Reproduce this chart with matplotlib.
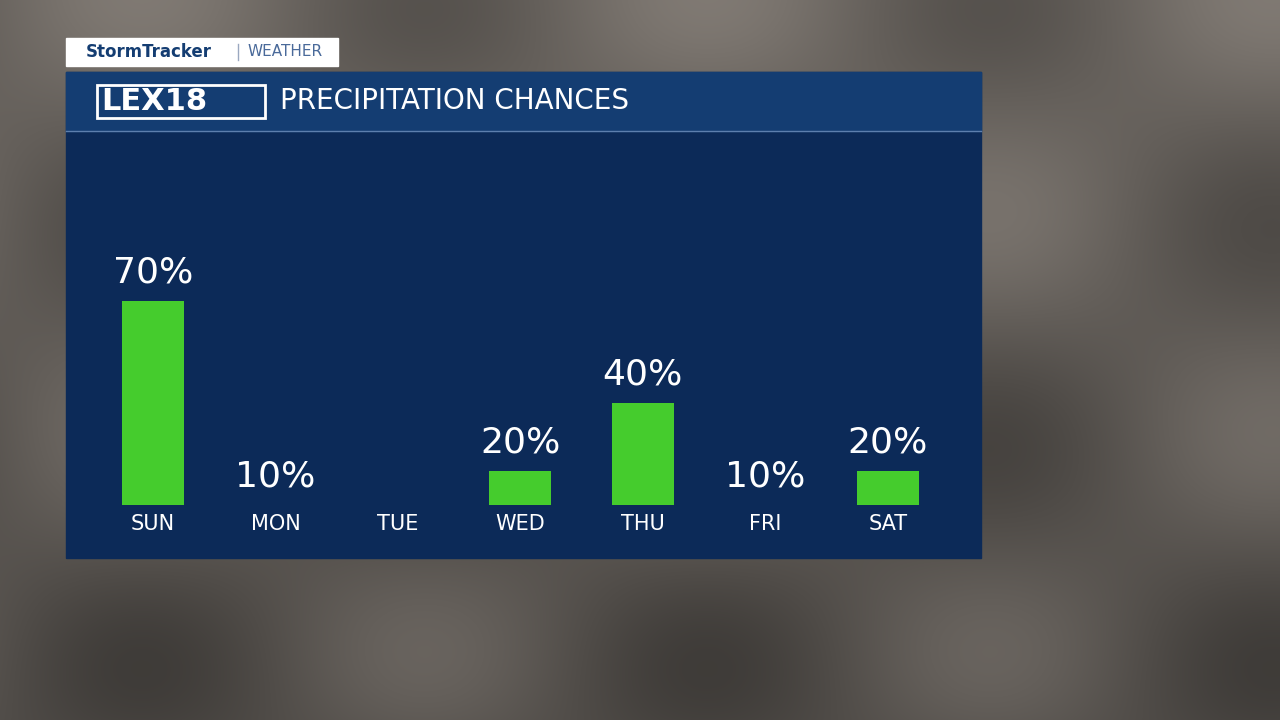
import matplotlib
matplotlib.use("Agg")
import matplotlib.pyplot as plt
import numpy as np
from matplotlib.patches import Rectangle

days = ["SUN", "MON", "TUE", "WED", "THU", "FRI", "SAT"]
chances = [70, 10, 0, 20, 40, 10, 20]
labels = ["70%", "10%", "", "20%", "40%", "10%", "20%"]

W, H = 1280, 720
fig = plt.figure(figsize=(12.8, 7.2), dpi=100)
bg = fig.add_axes([0, 0, 1, 1]); bg.axis("off")
yy, xx = np.mgrid[0:H, 0:W]
img = 0.42 + 0.08*np.sin(xx/90.0)*np.cos(yy/70.0) - 0.1*(yy/H)
rgb = np.dstack([img*1.0, img*0.95, img*0.9]).clip(0, 1)
bg.imshow(rgb, extent=[0, W, H, 0], aspect="auto")
bg.set_xlim(0, W); bg.set_ylim(H, 0)
bg.add_patch(Rectangle((66, 72), 915, 486, color="#0c2a58"))
bg.add_patch(Rectangle((66, 72), 915, 59, color="#143d72"))
bg.plot([66, 981], [131, 131], color="#5d7fae", lw=1)
bg.add_patch(Rectangle((66, 38), 272, 28, color="white"))
bg.text(86, 52, "StormTracker", color="#143d72", fontsize=12, fontweight="bold", va="center")
bg.plot([238, 238], [44, 60], color="#9aa8c0", lw=1)
bg.text(247, 52, "WEATHER", color="#4a6a9a", fontsize=11, va="center")
bg.add_patch(Rectangle((97, 85), 168, 33, fill=False, ec="white", lw=2))
bg.text(101, 102, "LEX18", color="white", fontsize=22, fontweight="bold", va="center")
bg.text(280, 101, "PRECIPITATION CHANCES", color="white", fontsize=20, va="center")

ax = fig.add_axes([66/W, (H-505)/H, 915/W, 374/H])
ax.set_facecolor("none")
x = np.arange(len(days))
ax.bar(x, [max(c-10, 0) for c in chances], bottom=10, width=0.506, color="#45cc2d")
ax.set_xlim(-0.71, 6.76); ax.set_ylim(10, 120)
for i, (c, l) in enumerate(zip(chances, labels)):
    if l:
        ax.text(i, max(c, 10) + 3.5, l, ha="center", va="bottom", color="white", fontsize=26)
    ax.text(i, 10 - 2.5, days[i], ha="center", va="top", color="white", fontsize=15)
ax.axis("off")
fig.savefig("out.png", dpi=100)
